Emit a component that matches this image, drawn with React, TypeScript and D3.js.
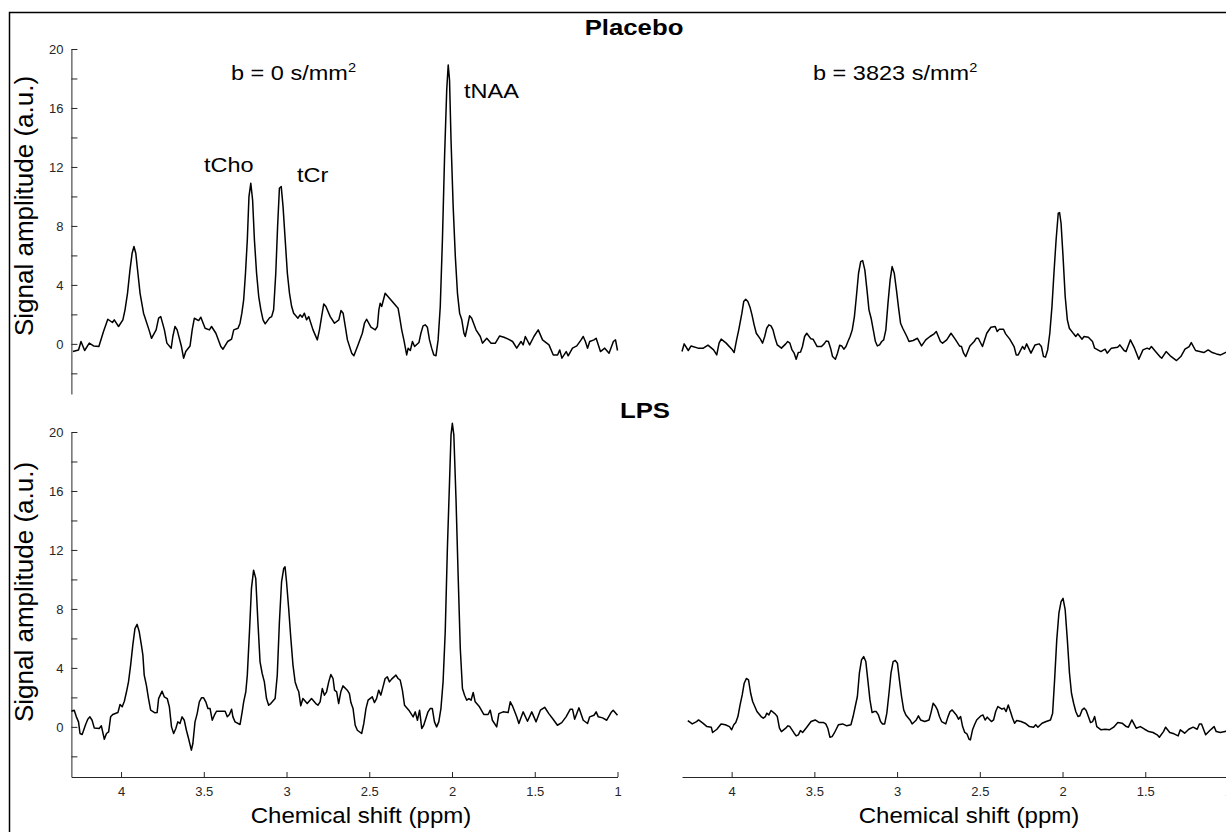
import { useEffect, useRef } from 'react';
import * as d3 from 'd3';

const width = 1226;
const height = 832;
const font = '"Liberation Sans", Arial, Helvetica, sans-serif';
const ink = '#262626';

// [chemical shift (ppm), amplitude (a.u.)]
const placeboB0 = [
    [4.291, -0.52], [4.257, -0.41], [4.242, 0.16], [4.22, -0.45], [4.192, 0.05], [4.166, -0.14], [4.134, -0.18], [4.106, 0.84],
    [4.08, 1.67], [4.052, 1.45], [4.041, 1.63], [4.015, 1.18], [3.989, 1.63], [3.976, 2.31], [3.961, 3.43], [3.946, 5.02],
    [3.933, 6.15], [3.922, 6.6], [3.911, 6.15], [3.898, 4.79], [3.885, 3.43], [3.864, 2.08], [3.831, 0.95], [3.816, 0.38],
    [3.788, 0.95], [3.773, 1.74], [3.76, 1.85], [3.738, 0.95], [3.723, 0.05], [3.697, -0.29], [3.687, 0.5], [3.674, 1.18],
    [3.661, 0.95], [3.635, -0.18], [3.622, -0.97], [3.609, -0.52], [3.583, -0.14], [3.57, 0.95], [3.557, 1.74], [3.531, 1.58],
    [3.518, 1.81], [3.492, 1.06], [3.466, 0.95], [3.453, 1.18], [3.427, 0.72], [3.397, -0.18], [3.384, -0.36], [3.356, 0.16],
    [3.332, 0.32], [3.319, 0.95], [3.293, 1.06], [3.281, 1.4], [3.27, 2.08], [3.259, 2.98], [3.248, 4.79], [3.237, 7.05],
    [3.227, 9.99], [3.216, 10.89], [3.205, 9.76], [3.194, 7.05], [3.181, 4.79], [3.168, 3.21], [3.155, 2.31], [3.142, 1.63],
    [3.129, 1.36], [3.103, 1.76], [3.09, 1.85], [3.078, 2.31], [3.065, 4.79], [3.054, 7.95], [3.043, 10.55], [3.032, 10.67],
    [3.021, 9.31], [3.008, 7.05], [2.995, 4.79], [2.982, 3.43], [2.969, 2.53], [2.957, 2.08], [2.931, 1.74], [2.918, 1.97],
    [2.905, 1.81], [2.892, 2.08], [2.879, 1.63], [2.866, 1.85], [2.84, 0.95], [2.814, 0.27], [2.801, 0.95], [2.788, 1.85],
    [2.775, 2.71], [2.762, 2.53], [2.736, 1.85], [2.71, 1.4], [2.684, 1.63], [2.671, 2.26], [2.658, 2.08], [2.645, 1.18],
    [2.632, 0.27], [2.606, -0.63], [2.593, -0.81], [2.568, -0.07], [2.542, 0.72], [2.529, 1.4], [2.516, 1.67], [2.49, 1.13],
    [2.464, 0.95], [2.451, 1.18], [2.442, 2.31], [2.434, 2.76], [2.425, 2.53], [2.417, 2.87], [2.404, 3.43], [2.378, 3.1],
    [2.352, 2.76], [2.326, 2.42], [2.317, 1.85], [2.304, 0.95], [2.291, 0.27], [2.274, -0.75], [2.265, -0.29], [2.252, -0.45],
    [2.239, 0.16], [2.226, -0.18], [2.2, 0.09], [2.188, 0.72], [2.175, 1.22], [2.162, 1.29], [2.149, 1.13], [2.136, 0.27],
    [2.123, -0.29], [2.11, -0.75], [2.097, -0.81], [2.084, 0.27], [2.071, 2.53], [2.058, 7.05], [2.045, 12.7], [2.032, 17.22],
    [2.023, 18.92], [2.015, 17.9], [2.006, 13.83], [1.993, 9.31], [1.98, 5.92], [1.967, 3.43], [1.954, 2.08], [1.941, 1.63],
    [1.928, 0.72], [1.92, 0.5], [1.907, 1.18], [1.894, 1.9], [1.881, 1.74], [1.855, 0.95], [1.829, 0.5], [1.816, 0.05],
    [1.79, 0.38], [1.764, 0.05], [1.738, 0.05], [1.712, 0.54], [1.686, 0.45], [1.66, 0.32], [1.634, 0.16], [1.609, -0.29],
    [1.583, 0.16], [1.57, -0.07], [1.557, 0.5], [1.531, -0.07], [1.505, 0.5], [1.479, 0.95], [1.453, 0.27], [1.414, -0.07],
    [1.388, -0.75], [1.362, -0.75], [1.349, -0.41], [1.336, -0.97], [1.31, -0.52], [1.298, -0.81], [1.272, -0.29], [1.246, -0.14],
    [1.22, 0.27], [1.207, 0.5], [1.194, 0.16], [1.181, -0.29], [1.168, 0.16], [1.142, 0.27], [1.129, 0.38], [1.103, -0.52],
    [1.077, -0.29], [1.051, -0.63], [1.025, 0.16], [1.012, 0.27], [1.0, -0.45]
];

const placeboB3823 = [
    [4.3, -0.52], [4.287, 0.0], [4.262, -0.45], [4.245, -0.14], [4.203, -0.29], [4.171, -0.29], [4.143, -0.09], [4.109, -0.41],
    [4.09, -0.75], [4.076, 0.05], [4.063, 0.32], [4.033, 0.05], [3.999, -0.36], [3.985, -0.59], [3.97, 0.27], [3.957, 0.95],
    [3.938, 2.08], [3.927, 2.87], [3.915, 3.03], [3.902, 2.87], [3.889, 2.49], [3.877, 1.97], [3.864, 1.29], [3.851, 0.72],
    [3.826, 0.32], [3.813, 0.05], [3.8, 0.5], [3.788, 1.06], [3.775, 1.29], [3.762, 1.22], [3.75, 0.95], [3.737, 0.38],
    [3.724, -0.07], [3.699, -0.29], [3.673, 0.0], [3.661, 0.16], [3.648, 0.05], [3.635, -0.41], [3.622, -0.63], [3.61, -1.04],
    [3.597, -0.59], [3.584, -0.56], [3.572, -0.18], [3.559, 0.5], [3.546, 0.72], [3.521, 0.34], [3.508, 0.32], [3.483, -0.18],
    [3.457, -0.18], [3.441, 0.0], [3.428, 0.2], [3.415, 0.16], [3.402, -0.29], [3.39, -0.86], [3.373, -1.04], [3.36, -0.63],
    [3.347, -0.09], [3.335, -0.14], [3.322, -0.36], [3.309, -0.18], [3.297, 0.16], [3.284, 0.5], [3.271, 0.95], [3.258, 1.85],
    [3.246, 3.21], [3.233, 4.79], [3.22, 5.58], [3.208, 5.65], [3.195, 5.02], [3.182, 3.66], [3.17, 2.31], [3.157, 1.74],
    [3.144, 0.95], [3.131, 0.16], [3.119, -0.14], [3.106, -0.07], [3.093, 0.16], [3.081, 0.27], [3.068, 0.95], [3.055, 2.76],
    [3.042, 4.34], [3.03, 5.24], [3.017, 4.79], [3.004, 3.66], [2.992, 2.53], [2.979, 1.4], [2.966, 1.06], [2.941, 0.5],
    [2.928, 0.16], [2.903, 0.23], [2.877, 0.38], [2.852, -0.14], [2.827, 0.27], [2.801, 0.5], [2.776, 0.68], [2.763, 0.84],
    [2.738, 0.16], [2.725, 0.05], [2.7, 0.27], [2.674, 0.72], [2.649, 0.32], [2.623, -0.14], [2.611, -0.18], [2.598, -0.63],
    [2.585, -0.86], [2.56, -0.14], [2.534, 0.16], [2.522, 0.38], [2.509, 0.38], [2.484, -0.18], [2.458, 0.72], [2.433, 1.13],
    [2.407, 1.18], [2.395, 0.84], [2.382, 0.99], [2.357, 0.99], [2.344, 0.68], [2.319, 0.32], [2.293, -0.18], [2.28, -0.75],
    [2.268, -0.75], [2.242, -0.18], [2.23, -0.36], [2.217, 0.0], [2.191, -0.63], [2.166, -0.07], [2.141, 0.0], [2.128, -0.18],
    [2.115, -0.86], [2.103, -0.9], [2.09, -0.41], [2.077, 0.72], [2.064, 2.53], [2.052, 4.79], [2.039, 7.05], [2.026, 8.86],
    [2.018, 8.9], [2.009, 8.18], [1.997, 5.92], [1.984, 3.21], [1.971, 1.63], [1.959, 1.06], [1.933, 0.68], [1.92, 0.5],
    [1.908, 0.68], [1.882, 0.32], [1.87, 0.5], [1.844, 0.45], [1.819, 0.16], [1.806, -0.29], [1.768, -0.52], [1.743, -0.36],
    [1.73, -0.63], [1.705, -0.29], [1.667, -0.23], [1.654, -0.07], [1.628, -0.45], [1.616, -0.52], [1.59, 0.27], [1.565, -0.29],
    [1.539, -1.04], [1.514, -0.41], [1.489, -0.29], [1.476, -0.36], [1.463, -0.18], [1.438, -0.52], [1.412, -0.86], [1.4, -0.97],
    [1.374, -0.52], [1.349, -0.81], [1.311, -1.13], [1.285, -0.86], [1.26, -0.36], [1.235, -0.18], [1.222, 0.09], [1.196, -0.45],
    [1.171, -0.52], [1.146, -0.59], [1.12, -0.41], [1.095, -0.59], [1.07, -0.68], [1.044, -0.75], [1.016, -0.59], [1.0, -0.5]
];

const lpsB0 = [
    [4.3, 1.06], [4.283, 1.13], [4.27, 0.68], [4.257, 0.34], [4.248, -0.45], [4.235, -0.52], [4.214, 0.16], [4.201, 0.52],
    [4.188, 0.68], [4.175, 0.45], [4.162, -0.07], [4.132, -0.11], [4.119, 0.07], [4.101, -0.84], [4.088, -0.45], [4.075, -0.34],
    [4.063, 0.68], [4.05, 0.84], [4.019, 0.97], [4.006, 1.52], [3.993, 1.36], [3.98, 1.74], [3.967, 2.38], [3.955, 3.05],
    [3.942, 4.19], [3.929, 5.54], [3.916, 6.67], [3.903, 6.95], [3.89, 6.45], [3.877, 5.54], [3.868, 4.86], [3.86, 3.51],
    [3.847, 2.83], [3.834, 1.92], [3.821, 1.13], [3.795, 0.95], [3.782, 0.97], [3.773, 1.92], [3.752, 2.42], [3.739, 2.04],
    [3.721, 1.92], [3.708, 1.36], [3.695, 0.0], [3.682, -0.45], [3.669, -0.11], [3.657, 0.34], [3.644, 0.23], [3.631, 0.68],
    [3.618, 0.45], [3.605, -0.23], [3.592, -0.79], [3.575, -1.58], [3.566, -1.13], [3.553, 0.34], [3.54, 0.9], [3.527, 1.7],
    [3.514, 1.97], [3.501, 1.97], [3.488, 1.7], [3.475, 1.24], [3.462, 1.24], [3.449, 0.45], [3.436, 0.79], [3.423, 1.06],
    [3.397, 1.06], [3.371, 1.06], [3.358, 0.68], [3.345, 0.84], [3.332, 1.2], [3.324, 0.68], [3.311, 0.34], [3.281, 0.16],
    [3.268, 1.02], [3.259, 1.7], [3.246, 2.38], [3.237, 3.51], [3.224, 6.45], [3.212, 9.39], [3.199, 10.63], [3.186, 10.07],
    [3.173, 7.13], [3.16, 4.41], [3.147, 3.62], [3.134, 3.05], [3.121, 1.92], [3.108, 1.47], [3.095, 1.58], [3.069, 1.92],
    [3.056, 3.51], [3.043, 7.13], [3.03, 9.84], [3.017, 10.75], [3.009, 10.86], [3.0, 9.84], [2.987, 8.03], [2.974, 6.0],
    [2.961, 4.19], [2.948, 3.05], [2.935, 2.6], [2.926, 2.38], [2.914, 1.43], [2.901, 1.92], [2.875, 1.58], [2.849, 1.92],
    [2.823, 1.58], [2.81, 1.47], [2.797, 1.7], [2.784, 2.6], [2.771, 2.15], [2.758, 2.38], [2.745, 3.05], [2.732, 3.55],
    [2.719, 3.28], [2.71, 2.49], [2.697, 2.38], [2.685, 1.58], [2.672, 2.38], [2.659, 2.78], [2.633, 2.49], [2.62, 2.26],
    [2.611, 1.65], [2.598, 1.24], [2.585, 0.11], [2.572, -0.23], [2.546, -0.45], [2.533, 0.23], [2.52, 1.24], [2.507, 1.81],
    [2.482, 2.04], [2.469, 1.65], [2.456, 1.92], [2.443, 2.49], [2.43, 2.15], [2.417, 2.71], [2.404, 3.28], [2.391, 3.39],
    [2.378, 3.05], [2.365, 3.24], [2.339, 3.51], [2.326, 3.28], [2.313, 3.17], [2.3, 2.49], [2.287, 1.47], [2.261, 1.13],
    [2.235, 0.68], [2.222, 1.02], [2.209, 0.45], [2.196, 1.13], [2.183, -0.11], [2.171, 0.11], [2.145, 1.02], [2.132, 1.24],
    [2.119, 1.24], [2.106, 0.34], [2.093, 0.0], [2.08, 0.34], [2.067, 1.24], [2.054, 3.05], [2.041, 6.45], [2.028, 12.1],
    [2.015, 16.63], [2.006, 19.8], [1.998, 20.59], [1.989, 19.8], [1.976, 15.5], [1.963, 10.29], [1.95, 5.32], [1.937, 2.6],
    [1.924, 2.15], [1.911, 1.81], [1.898, 1.92], [1.885, 1.81], [1.872, 2.33], [1.86, 1.7], [1.834, 1.36], [1.808, 0.84],
    [1.782, 0.84], [1.769, 1.13], [1.756, 0.45], [1.73, 0.0], [1.717, 0.9], [1.691, 1.02], [1.661, 0.97], [1.648, 1.7],
    [1.635, 1.43], [1.609, 0.68], [1.596, 0.23], [1.57, 1.02], [1.544, 0.38], [1.518, 1.02], [1.492, 0.34], [1.466, 1.13],
    [1.44, 1.33], [1.415, 0.9], [1.389, 0.52], [1.363, 0.11], [1.337, 0.29], [1.311, 0.68], [1.285, 1.2], [1.272, 1.2],
    [1.259, 0.52], [1.233, 1.29], [1.207, 0.45], [1.181, 0.23], [1.168, 0.68], [1.142, 0.79], [1.129, 1.02], [1.116, 0.68],
    [1.09, 0.61], [1.065, 0.45], [1.039, 0.97], [1.026, 1.13], [1.0, 0.79]
];

const lpsB3823 = [
    [4.265, 0.43], [4.238, 0.2], [4.212, 0.36], [4.2, 0.47], [4.174, 0.25], [4.149, 0.02], [4.123, -0.02], [4.115, -0.38],
    [4.089, -0.16], [4.064, 0.2], [4.038, 0.14], [4.013, 0.02], [4.0, -0.2], [3.987, 0.14], [3.975, 0.29], [3.962, 0.7],
    [3.949, 1.49], [3.936, 2.17], [3.924, 2.96], [3.911, 3.28], [3.898, 3.19], [3.885, 2.28], [3.873, 1.72], [3.86, 1.38],
    [3.847, 1.04], [3.822, 0.7], [3.809, 0.59], [3.796, 0.7], [3.788, 0.93], [3.775, 0.81], [3.762, 1.11], [3.737, 0.88],
    [3.724, 0.7], [3.711, -0.09], [3.699, -0.32], [3.673, -0.09], [3.66, 0.07], [3.648, 0.02], [3.622, -0.43], [3.61, -0.61],
    [3.597, -0.54], [3.584, -0.25], [3.571, -0.38], [3.546, -0.02], [3.52, 0.36], [3.495, 0.47], [3.47, 0.29], [3.444, 0.29],
    [3.431, 0.2], [3.419, -0.09], [3.406, -0.7], [3.393, -0.66], [3.38, -0.43], [3.368, -0.16], [3.355, 0.14], [3.329, 0.2],
    [3.304, 0.07], [3.279, 0.14], [3.266, 0.7], [3.253, 1.38], [3.24, 2.06], [3.228, 3.64], [3.215, 4.54], [3.202, 4.77],
    [3.189, 4.43], [3.177, 3.19], [3.164, 1.83], [3.151, 0.97], [3.138, 1.04], [3.126, 1.04], [3.113, 0.81], [3.1, 0.36],
    [3.088, 0.2], [3.075, 0.2], [3.062, 0.93], [3.049, 2.28], [3.037, 3.64], [3.024, 4.43], [3.011, 4.5], [2.998, 4.32],
    [2.986, 3.19], [2.973, 2.06], [2.96, 1.15], [2.947, 0.81], [2.922, 0.47], [2.909, 0.2], [2.884, 0.47], [2.871, 0.75],
    [2.858, 0.47], [2.833, 0.36], [2.807, 0.47], [2.795, 0.97], [2.782, 1.6], [2.769, 1.42], [2.756, 1.15], [2.744, 0.7],
    [2.731, 0.36], [2.706, 0.2], [2.693, 0.66], [2.68, 1.04], [2.667, 1.15], [2.642, 0.81], [2.629, 0.52], [2.616, 0.7],
    [2.604, 0.02], [2.591, -0.38], [2.578, -0.47], [2.565, -0.84], [2.557, -0.88], [2.544, -0.2], [2.532, 0.14], [2.519, 0.47],
    [2.493, 0.75], [2.481, 0.81], [2.468, 0.47], [2.455, 0.66], [2.43, 0.36], [2.417, 0.47], [2.404, 1.04], [2.391, 1.38],
    [2.366, 1.2], [2.353, 1.27], [2.341, 1.04], [2.328, 1.49], [2.315, 1.04], [2.302, 0.59], [2.29, 0.25], [2.277, 0.43],
    [2.251, 0.36], [2.226, 0.25], [2.2, 0.02], [2.175, -0.02], [2.162, 0.14], [2.149, -0.02], [2.124, 0.25], [2.099, 0.36],
    [2.073, 0.47], [2.06, 0.93], [2.048, 3.19], [2.035, 5.9], [2.022, 7.71], [2.009, 8.5], [1.997, 8.72], [1.984, 7.93],
    [1.971, 5.9], [1.958, 3.64], [1.946, 2.28], [1.933, 1.6], [1.92, 1.04], [1.907, 0.7], [1.895, 0.75], [1.882, 1.15],
    [1.869, 1.27], [1.857, 1.11], [1.844, 0.7], [1.831, 0.29], [1.818, 0.36], [1.806, 0.7], [1.793, 0.02], [1.767, -0.2],
    [1.742, -0.16], [1.717, -0.2], [1.691, -0.02], [1.666, 0.29], [1.64, 0.25], [1.615, 0.02], [1.602, -0.02], [1.581, 0.47],
    [1.555, -0.09], [1.53, 0.02], [1.504, -0.16], [1.479, -0.32], [1.453, -0.38], [1.428, -0.54], [1.415, -0.7], [1.39, -0.32],
    [1.377, -0.02], [1.352, -0.38], [1.326, -0.47], [1.301, -0.61], [1.288, -0.2], [1.262, -0.43], [1.237, -0.16], [1.211, -0.02],
    [1.186, -0.16], [1.173, 0.2], [1.16, 0.2], [1.148, -0.16], [1.135, -0.54], [1.11, -0.25], [1.084, 0.02], [1.071, -0.32],
    [1.046, -0.38], [1.018, -0.32], [1.0, -0.2]
];

const ppmDomain = [4.3, 1];
const ampDomain = [-3.4, 20];
const yTickValues = [-2, 0, 2, 4, 6, 8, 10, 12, 14, 16, 18, 20];
const xTickValues = [4, 3.5, 3, 2.5, 2, 1.5, 1];
const groupTitles = ['Placebo', 'LPS'];
const bValueLabels = ['b = 0 s/mm', 'b = 3823 s/mm'];
const peakNames = ['tCho', 'tCr', 'tNAA'];

// scales: two columns, two rows
const xLeft = d3.scaleLinear().domain(ppmDomain).range([71.4, 617.5]);
const xRight = d3.scaleLinear().domain(ppmDomain).range([682, 1228]);
const yTop = d3.scaleLinear().domain(ampDomain).range([394, 49]);
const yBottom = d3.scaleLinear().domain(ampDomain).range([777, 432]);

const panels = [
    { data: placeboB0, x: xLeft, y: yTop },
    { data: placeboB3823, x: xRight, y: yTop },
    { data: lpsB0, x: xLeft, y: yBottom },
    { data: lpsB3823, x: xRight, y: yBottom }
];

const stretch = 1.12;

function Label({ x, y, size, weight = 'normal', anchor = 'start', children }) {
    return (
        <text
            transform={`translate(${x},${y}) scale(${stretch},1)`}
            fontSize={size}
            fontWeight={weight}
            textAnchor={anchor}
            fontFamily={font}
            fill="#000"
        >
            {children}
        </text>
    );
}

function App() {
    const yTopRef = useRef(null);
    const yBottomRef = useRef(null);
    const xLeftRef = useRef(null);
    const xRightRef = useRef(null);

    useEffect(() => {
        const styleAxis = (g) => {
            g.attr('font-family', font).attr('font-size', 13);
            g.select('.domain').attr('stroke', ink).attr('stroke-width', 1);
            g.selectAll('.tick line').attr('stroke', ink);
            g.selectAll('.tick text').attr('fill', ink);
        };

        const yAxis = (scale) =>
            d3
                .axisLeft(scale)
                .tickValues(yTickValues)
                .tickFormat((d) => (d % 4 === 0 ? String(d) : ''))
                .tickSizeInner(-6)
                .tickSizeOuter(0)
                .tickPadding(8);

        const xAxis = (scale) =>
            d3
                .axisBottom(scale)
                .tickValues(xTickValues)
                .tickFormat((d) => String(d))
                .tickSizeInner(-5)
                .tickSizeOuter(0)
                .tickPadding(10);

        d3.select(yTopRef.current).call(yAxis(yTop)).call(styleAxis);
        d3.select(yBottomRef.current).call(yAxis(yBottom)).call(styleAxis);
        d3.select(xLeftRef.current).call(xAxis(xLeft)).call(styleAxis);
        d3.select(xRightRef.current).call(xAxis(xRight)).call(styleAxis);
    }, []);

    return (
        <svg
            width={width}
            height={height}
            style={{ position: 'absolute', left: 0, top: 0, background: '#fff' }}
        >
            <rect x={9.5} y={12.5} width={1240} height={840} fill="none" stroke="#000" strokeWidth={1.5} />

            <g ref={yTopRef} transform={`translate(${xLeft.range()[0]},0)`} />
            <g ref={yBottomRef} transform={`translate(${xLeft.range()[0]},0)`} />
            <g ref={xLeftRef} transform={`translate(0,${yBottom.range()[0]})`} />
            <g ref={xRightRef} transform={`translate(0,${yBottom.range()[0]})`} />

            {panels.map((p, i) => {
                const line = d3
                    .line()
                    .x((d) => p.x(d[0]))
                    .y((d) => p.y(d[1]));
                return <path key={i} d={line(p.data)} fill="none" stroke="#000" strokeWidth={1.5} strokeLinejoin="round" />;
            })}

            <Label x={634} y={35} size={23} weight="bold" anchor="middle">{groupTitles[0]}</Label>
            <Label x={645} y={418} size={23} weight="bold" anchor="middle">{groupTitles[1]}</Label>

            <Label x={231} y={80} size={21}>
                {bValueLabels[0]}
                <tspan fontSize={13} dy={-8}>2</tspan>
            </Label>
            <Label x={813} y={80} size={21}>
                {bValueLabels[1]}
                <tspan fontSize={13} dy={-8}>2</tspan>
            </Label>

            <Label x={204} y={172} size={21}>{peakNames[0]}</Label>
            <Label x={297} y={182} size={21}>{peakNames[1]}</Label>
            <Label x={464} y={98} size={21}>{peakNames[2]}</Label>

            {[206, 592].map((cy, i) => (
                <text
                    key={i}
                    transform={`translate(33,${cy}) rotate(-90)`}
                    textAnchor="middle"
                    fontSize={26}
                    fontFamily={font}
                    fill="#000"
                >
                    Signal amplitude (a.u.)
                </text>
            ))}

            <Label x={361} y={823} size={21.5} anchor="middle">Chemical shift (ppm)</Label>
            <Label x={969} y={823} size={21.5} anchor="middle">Chemical shift (ppm)</Label>
        </svg>
    );
}

export default App;
